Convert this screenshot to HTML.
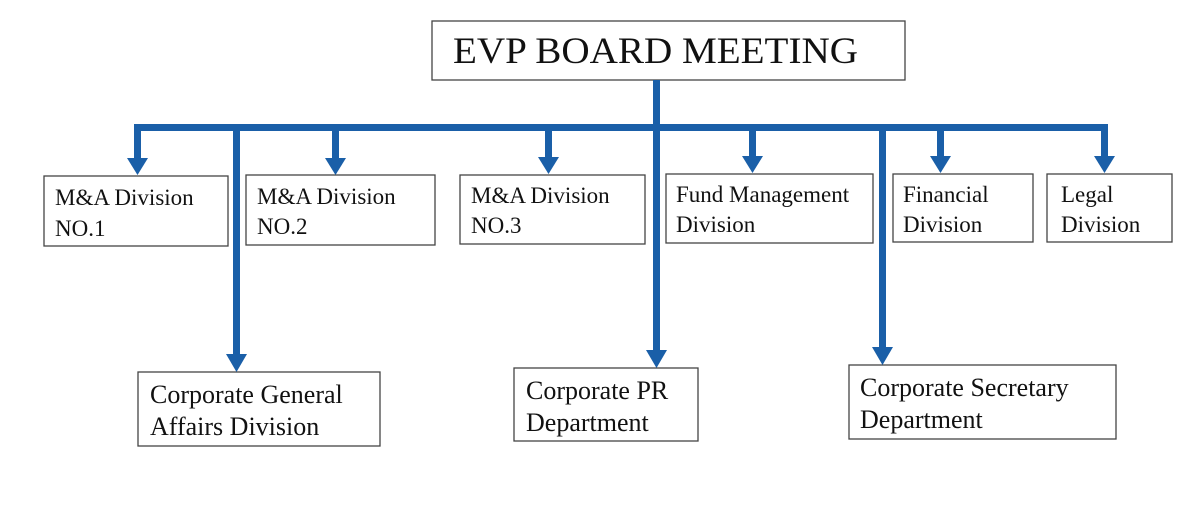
<!DOCTYPE html>
<html><head><meta charset="utf-8"><style>
html,body{margin:0;padding:0;background:#fff;}
svg{display:block;}
text{font-family:"Liberation Serif",serif;fill:#111;}
</style></head><body>
<svg width="1200" height="525" viewBox="0 0 1200 525" xmlns="http://www.w3.org/2000/svg">
<g fill="none" stroke="#444" stroke-width="1.3">
<rect x="432" y="21" width="473" height="59" fill="#fff"/>
<rect x="44" y="176" width="184" height="70"/>
<rect x="246" y="175" width="189" height="70"/>
<rect x="460" y="175" width="185" height="69"/>
<rect x="666" y="174" width="207" height="69"/>
<rect x="893" y="174" width="140" height="68"/>
<rect x="1047" y="174" width="125" height="68"/>
<rect x="138" y="372" width="242" height="74"/>
<rect x="514" y="368" width="184" height="73"/>
<rect x="849" y="365" width="267" height="74"/>
</g>
<g fill="#1a5fa8">
<rect x="653" y="80" width="7" height="48"/>
<rect x="134" y="124" width="974" height="7"/>
<rect x="134" y="124" width="7" height="36"/>
<polygon points="127,158 148,158 137.5,175"/>
<rect x="332" y="124" width="7" height="36"/>
<polygon points="325,158 346,158 335.5,175"/>
<rect x="545" y="124" width="7" height="36"/>
<polygon points="538,157 559,157 548.5,174"/>
<rect x="749" y="124" width="7" height="36"/>
<polygon points="742,156 763,156 752.5,173"/>
<rect x="937" y="124" width="7" height="36"/>
<polygon points="930,156 951,156 940.5,173"/>
<rect x="1101" y="124" width="7" height="36"/>
<polygon points="1094,156 1115,156 1104.5,173"/>
<rect x="233" y="124" width="7" height="232"/>
<polygon points="226,354 247,354 236.5,372"/>
<rect x="653" y="124" width="7" height="228"/>
<polygon points="646,350 667,350 656.5,368"/>
<rect x="879" y="124" width="7" height="225"/>
<polygon points="872,347 893,347 882.5,365"/>
</g>
<text x="453" y="63" font-size="37" textLength="405" lengthAdjust="spacingAndGlyphs">EVP BOARD MEETING</text>
<g font-size="23">
<text x="55" y="205">M&amp;A Division</text><text x="55" y="236">NO.1</text>
<text x="257" y="204">M&amp;A Division</text><text x="257" y="234">NO.2</text>
<text x="471" y="203">M&amp;A Division</text><text x="471" y="233">NO.3</text>
<text x="676" y="202">Fund Management</text><text x="676" y="232">Division</text>
<text x="903" y="202">Financial</text><text x="903" y="232">Division</text>
<text x="1061" y="202">Legal</text><text x="1061" y="232">Division</text>
</g>
<g font-size="26">
<text x="150" y="403">Corporate General</text><text x="150" y="435">Affairs Division</text>
<text x="526" y="399">Corporate PR</text><text x="526" y="431">Department</text>
<text x="860" y="396">Corporate Secretary</text><text x="860" y="428">Department</text>
</g>
</svg>
</body></html>
